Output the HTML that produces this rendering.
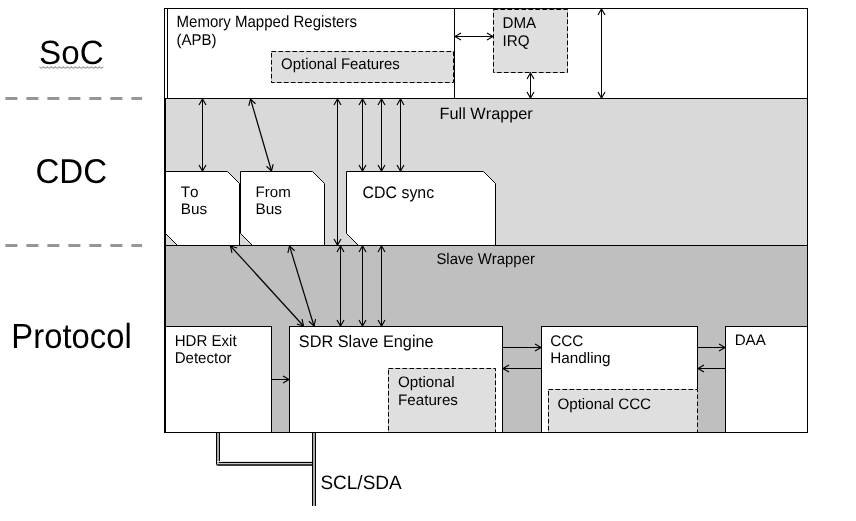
<!DOCTYPE html>
<html><head><meta charset="utf-8"><style>
html,body{margin:0;padding:0;background:#fff;width:856px;height:521px;overflow:hidden}
svg{display:block;filter:grayscale(1)}
text{font-family:"Liberation Sans",sans-serif;fill:#000;text-rendering:geometricPrecision;font-kerning:none}
</style></head><body>
<svg width="856" height="521" viewBox="0 0 856 521">
<text transform="translate(39.1 64.4) scale(1.0 1.013)" font-size="33.2">SoC</text>
<text transform="translate(35.4 182.9) scale(1.0 1.04)" font-size="33.1">CDC</text>
<text transform="translate(11.35 347.85) scale(1.0 1.063)" font-size="32.8">Protocol</text>
<polyline points="39.4,66.8 41.4,68.4 43.4,66.8 45.4,68.4 47.4,66.8 49.4,68.4 51.4,66.8 53.4,68.4 55.4,66.8 57.4,68.4 59.4,66.8 61.4,68.4 63.4,66.8 65.4,68.4 67.4,66.8 69.4,68.4 71.4,66.8 73.4,68.4 75.4,66.8 77.4,68.4 79.4,66.8 81.4,68.4 83.4,66.8 85.4,68.4 87.4,66.8 89.4,68.4 91.4,66.8 93.4,68.4 95.4,66.8 97.4,68.4 99.4,66.8 101.4,68.4 103.4,66.8" fill="none" stroke="#a4a4a4" stroke-width="1.1"/>
<line x1="5.4" y1="98.5" x2="142" y2="98.5" stroke="#969696" stroke-width="3" stroke-dasharray="12 9"/>
<line x1="5.4" y1="245.5" x2="142" y2="245.5" stroke="#969696" stroke-width="3" stroke-dasharray="12 9"/>
<rect x="165.5" y="98.5" width="642" height="147" fill="#d9d9d9" stroke="#000" stroke-width="1" shape-rendering="crispEdges"/>
<rect x="165.5" y="245.5" width="642" height="187" fill="#bfbfbf" stroke="#000" stroke-width="1" shape-rendering="crispEdges"/>
<rect x="167.5" y="8.5" width="287" height="90" fill="#fff" stroke="#000" stroke-width="1" shape-rendering="crispEdges"/>
<rect x="455" y="9" width="352" height="89" fill="#fff"/>
<line x1="164" y1="8.5" x2="808" y2="8.5" stroke="#000" stroke-width="1" />
<line x1="807.5" y1="8" x2="807.5" y2="99" stroke="#000" stroke-width="1" />
<line x1="164.5" y1="8" x2="164.5" y2="433" stroke="#000" stroke-width="1" />
<rect x="271.5" y="51.5" width="182" height="31" fill="#dfdfdf" stroke="#c4c4c4" stroke-width="1" shape-rendering="crispEdges"/>
<rect x="271.5" y="51.5" width="182" height="31" fill="none" stroke="#000" stroke-width="1" stroke-dasharray="4.5 2.5"/>
<rect x="493.5" y="9.5" width="74" height="63" fill="#dfdfdf" stroke="#c4c4c4" stroke-width="1" shape-rendering="crispEdges"/>
<rect x="493.5" y="9.5" width="74" height="63" fill="none" stroke="#000" stroke-width="1" stroke-dasharray="4.5 2.5"/>
<line x1="455" y1="36.5" x2="493" y2="36.5" stroke="#000" stroke-width="1"/>
<polyline points="487.00,40.00 493.00,36.50 487.00,33.00" fill="none" stroke="#000" stroke-width="1.15"/>
<polyline points="461.00,33.00 455.00,36.50 461.00,40.00" fill="none" stroke="#000" stroke-width="1.15"/>
<line x1="530.5" y1="73" x2="530.5" y2="98" stroke="#000" stroke-width="1"/>
<polyline points="527.00,92.00 530.50,98.00 534.00,92.00" fill="none" stroke="#000" stroke-width="1.15"/>
<polyline points="534.00,79.00 530.50,73.00 527.00,79.00" fill="none" stroke="#000" stroke-width="1.15"/>
<line x1="601.5" y1="9" x2="601.5" y2="98" stroke="#000" stroke-width="1"/>
<polyline points="598.00,92.00 601.50,98.00 605.00,92.00" fill="none" stroke="#000" stroke-width="1.15"/>
<polyline points="605.00,15.00 601.50,9.00 598.00,15.00" fill="none" stroke="#000" stroke-width="1.15"/>
<polygon points="165.5,171.5 227.5,171.5 239.5,183.5 239.5,245.5 177.5,245.5 165.5,233.5" fill="#fff" stroke="#000" stroke-width="1"/>
<polygon points="240.5,171.5 312.5,171.5 324.5,183.5 324.5,245.5 252.5,245.5 240.5,233.5" fill="#fff" stroke="#000" stroke-width="1"/>
<polygon points="346.5,171.5 483.5,171.5 495.5,183.5 495.5,245.5 358.5,245.5 346.5,233.5" fill="#fff" stroke="#000" stroke-width="1"/>
<line x1="202.5" y1="99" x2="202.5" y2="171" stroke="#000" stroke-width="1"/>
<polyline points="199.00,165.00 202.50,171.00 206.00,165.00" fill="none" stroke="#000" stroke-width="1.15"/>
<polyline points="206.00,105.00 202.50,99.00 199.00,105.00" fill="none" stroke="#000" stroke-width="1.15"/>
<line x1="250.5" y1="99" x2="271.5" y2="171" stroke="#000" stroke-width="1.2"/>
<polyline points="266.46,166.22 271.50,171.00 273.18,164.26" fill="none" stroke="#000" stroke-width="1.15"/>
<polyline points="255.54,103.78 250.50,99.00 248.82,105.74" fill="none" stroke="#000" stroke-width="1.15"/>
<line x1="337.5" y1="99" x2="337.5" y2="245" stroke="#000" stroke-width="1"/>
<polyline points="334.00,239.00 337.50,245.00 341.00,239.00" fill="none" stroke="#000" stroke-width="1.15"/>
<polyline points="341.00,105.00 337.50,99.00 334.00,105.00" fill="none" stroke="#000" stroke-width="1.15"/>
<line x1="362.5" y1="99" x2="362.5" y2="171" stroke="#000" stroke-width="1"/>
<polyline points="359.00,165.00 362.50,171.00 366.00,165.00" fill="none" stroke="#000" stroke-width="1.15"/>
<polyline points="366.00,105.00 362.50,99.00 359.00,105.00" fill="none" stroke="#000" stroke-width="1.15"/>
<line x1="381.5" y1="99" x2="381.5" y2="171" stroke="#000" stroke-width="1"/>
<polyline points="378.00,165.00 381.50,171.00 385.00,165.00" fill="none" stroke="#000" stroke-width="1.15"/>
<polyline points="385.00,105.00 381.50,99.00 378.00,105.00" fill="none" stroke="#000" stroke-width="1.15"/>
<line x1="400.5" y1="99" x2="400.5" y2="171" stroke="#000" stroke-width="1"/>
<polyline points="397.00,165.00 400.50,171.00 404.00,165.00" fill="none" stroke="#000" stroke-width="1.15"/>
<polyline points="404.00,105.00 400.50,99.00 397.00,105.00" fill="none" stroke="#000" stroke-width="1.15"/>
<rect x="165.5" y="326.5" width="106" height="106" fill="#fff" stroke="#000" stroke-width="1" shape-rendering="crispEdges"/>
<rect x="289.5" y="326.5" width="213" height="106" fill="#fff" stroke="#000" stroke-width="1" shape-rendering="crispEdges"/>
<rect x="388.5" y="368.5" width="107" height="64" fill="#dfdfdf" stroke="#c4c4c4" stroke-width="1" shape-rendering="crispEdges"/>
<rect x="388.5" y="368.5" width="107" height="64" fill="none" stroke="#000" stroke-width="1" stroke-dasharray="4.5 2.5"/>
<rect x="541.5" y="326.5" width="156" height="106" fill="#fff" stroke="#000" stroke-width="1" shape-rendering="crispEdges"/>
<rect x="548.5" y="389.5" width="149" height="43" fill="#dfdfdf" stroke="#c4c4c4" stroke-width="1" shape-rendering="crispEdges"/>
<rect x="548.5" y="389.5" width="149" height="43" fill="none" stroke="#000" stroke-width="1" stroke-dasharray="4.5 2.5"/>
<rect x="725.5" y="326.5" width="82" height="106" fill="#fff" stroke="#000" stroke-width="1" shape-rendering="crispEdges"/>
<line x1="230.5" y1="246" x2="303.5" y2="326" stroke="#000" stroke-width="1.2"/>
<polyline points="296.87,323.93 303.50,326.00 302.04,319.21" fill="none" stroke="#000" stroke-width="1.15"/>
<polyline points="237.13,248.07 230.50,246.00 231.96,252.79" fill="none" stroke="#000" stroke-width="1.15"/>
<line x1="289.5" y1="246" x2="314" y2="326" stroke="#000" stroke-width="1.2"/>
<polyline points="308.90,321.29 314.00,326.00 315.59,319.24" fill="none" stroke="#000" stroke-width="1.15"/>
<polyline points="294.60,250.71 289.50,246.00 287.91,252.76" fill="none" stroke="#000" stroke-width="1.15"/>
<line x1="340.5" y1="246" x2="340.5" y2="326" stroke="#000" stroke-width="1"/>
<polyline points="337.00,320.00 340.50,326.00 344.00,320.00" fill="none" stroke="#000" stroke-width="1.15"/>
<polyline points="344.00,252.00 340.50,246.00 337.00,252.00" fill="none" stroke="#000" stroke-width="1.15"/>
<line x1="362.5" y1="246" x2="362.5" y2="326" stroke="#000" stroke-width="1"/>
<polyline points="359.00,320.00 362.50,326.00 366.00,320.00" fill="none" stroke="#000" stroke-width="1.15"/>
<polyline points="366.00,252.00 362.50,246.00 359.00,252.00" fill="none" stroke="#000" stroke-width="1.15"/>
<line x1="381.5" y1="246" x2="381.5" y2="326" stroke="#000" stroke-width="1"/>
<polyline points="378.00,320.00 381.50,326.00 385.00,320.00" fill="none" stroke="#000" stroke-width="1.15"/>
<polyline points="385.00,252.00 381.50,246.00 378.00,252.00" fill="none" stroke="#000" stroke-width="1.15"/>
<line x1="272" y1="379.5" x2="289" y2="379.5" stroke="#000" stroke-width="1"/>
<polyline points="283.00,383.00 289.00,379.50 283.00,376.00" fill="none" stroke="#000" stroke-width="1.15"/>
<line x1="503" y1="347.5" x2="541" y2="347.5" stroke="#000" stroke-width="1"/>
<polyline points="535.00,351.00 541.00,347.50 535.00,344.00" fill="none" stroke="#000" stroke-width="1.15"/>
<line x1="541" y1="368.5" x2="503" y2="368.5" stroke="#000" stroke-width="1"/>
<polyline points="509.00,365.00 503.00,368.50 509.00,372.00" fill="none" stroke="#000" stroke-width="1.15"/>
<line x1="698" y1="347.5" x2="725" y2="347.5" stroke="#000" stroke-width="1"/>
<polyline points="719.00,351.00 725.00,347.50 719.00,344.00" fill="none" stroke="#000" stroke-width="1.15"/>
<line x1="725" y1="368.5" x2="698" y2="368.5" stroke="#000" stroke-width="1"/>
<polyline points="704.00,365.00 698.00,368.50 704.00,372.00" fill="none" stroke="#000" stroke-width="1.15"/>
<line x1="164" y1="432.5" x2="808" y2="432.5" stroke="#000" stroke-width="1" shape-rendering="crispEdges"/>
<rect x="216" y="433" width="1" height="31" fill="#000"/>
<rect x="217" y="433" width="2" height="30" fill="#aaa"/>
<rect x="219" y="433" width="1" height="29" fill="#000"/>
<rect x="217" y="461" width="95" height="1" fill="#e4e4e4"/>
<rect x="219" y="462" width="93" height="1" fill="#000"/>
<rect x="217" y="463" width="95" height="1" fill="#c8c8c8"/>
<path d="M216,463 L216,464 Q216,466 218,466 L312,466 L312,464 L216,464 Z" fill="#3a3a3a"/>
<rect x="216" y="462" width="1" height="2" fill="#000"/>
<rect x="217" y="462" width="2" height="1" fill="#aaa"/>
<rect x="312" y="433" width="1" height="73" fill="#000"/>
<rect x="313" y="433" width="2" height="73" fill="#aaa"/>
<rect x="315" y="433" width="1" height="73" fill="#000"/>
<text transform="translate(176.5 27) scale(1.0 1.08)" font-size="15.04">Memory Mapped Registers</text>
<text transform="translate(176.5 44.9) scale(1.0 1.04)" font-size="15.04">(APB)</text>
<text transform="translate(281.1 68.7) scale(1.0 1.03)" font-size="14.95">Optional Features</text>
<text transform="translate(502.5 28) scale(1.0 1.02)" font-size="15.2">DMA</text>
<text transform="translate(502.5 45.6) scale(1.0 1.02)" font-size="15.2">IRQ</text>
<text x="439.6" y="118.5" font-size="16.3">Full Wrapper</text>
<text x="180.7" y="196.7" font-size="15.3">To</text>
<text x="180.7" y="213.8" font-size="15.3">Bus</text>
<text x="255.6" y="196.7" font-size="15.1">From</text>
<text x="255.5" y="213.8" font-size="15.35">Bus</text>
<text transform="translate(362.6 197.6) scale(1.0 1.05)" font-size="15.9">CDC sync</text>
<text transform="translate(436.4 263.9) scale(1.0 1.04)" font-size="14.9">Slave Wrapper</text>
<text transform="translate(174.7 345.9) scale(1.0 1.05)" font-size="15.05">HDR Exit</text>
<text transform="translate(174.7 362.9) scale(1.0 1.03)" font-size="15.05">Detector</text>
<text transform="translate(298.8 346.8) scale(1.0 1.03)" font-size="16.3">SDR Slave Engine</text>
<text x="398" y="386.8" font-size="15.2">Optional</text>
<text x="398" y="404.9" font-size="15.2">Features</text>
<text x="550.2" y="345.6" font-size="15.3">CCC</text>
<text x="550.2" y="362.8" font-size="15.3">Handling</text>
<text x="557.4" y="408.6" font-size="15.2">Optional CCC</text>
<text x="734.7" y="344.9" font-size="15.15">DAA</text>
<text transform="translate(320.4 489.0) scale(1.0 1.02)" font-size="19.0">SCL/SDA</text>
</svg>
</body></html>
